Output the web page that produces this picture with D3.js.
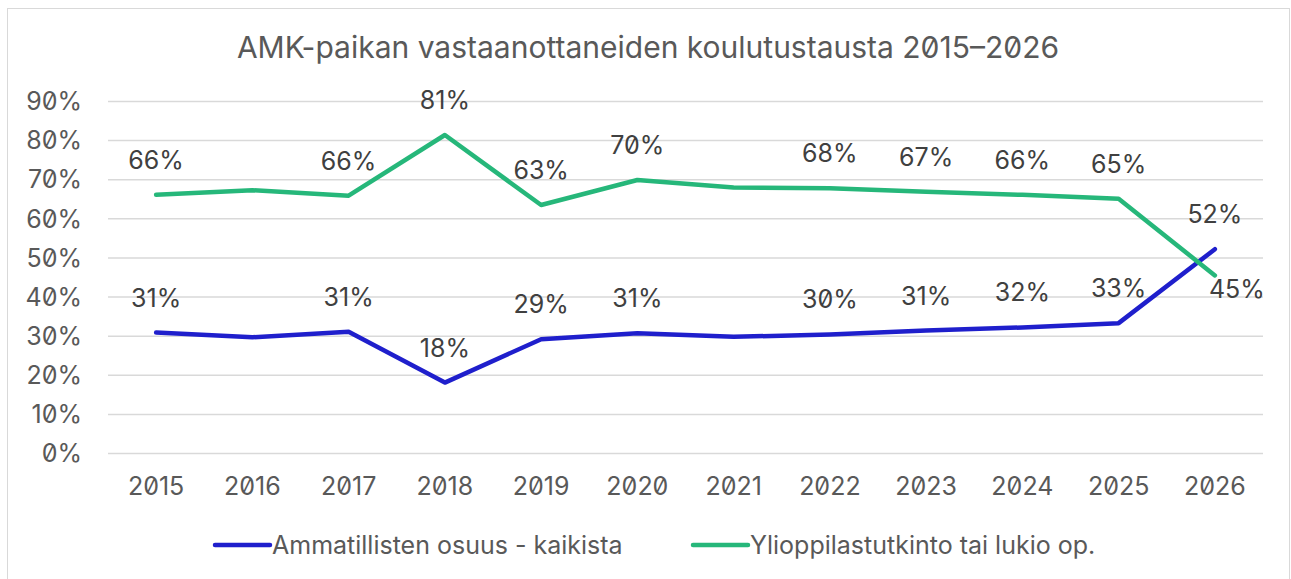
<!DOCTYPE html>
<html>
<head>
<meta charset="utf-8">
<script src="https://cdn.jsdelivr.net/npm/d3@7"></script>
<style>
  html, body { margin: 0; padding: 0; background: #fff; }
  svg text { font-family: Inter, "Noto Sans", sans-serif; font-variant-numeric: slashed-zero; font-feature-settings: "zero" 1; }
</style>
</head>
<body>
<svg id="chart" width="1291" height="579"></svg>
<script>
const title = "AMK-paikan vastaanottaneiden koulutustausta 2015–2026";
const years = ["2015","2016","2017","2018","2019","2020","2021","2022","2023","2024","2025","2026"];
const ammatilliset = [30.8, 29.6, 31.0, 18.0, 29.1, 30.6, 29.7, 30.3, 31.3, 32.1, 33.2, 52.1];
const ylioppilas   = [66.0, 67.2, 65.8, 81.3, 63.4, 69.8, 67.9, 67.7, 66.8, 66.0, 65.0, 45.4];
const yTicks = [0, 10, 20, 30, 40, 50, 60, 70, 80, 90];
const unlabeledYears = ["2016", "2021"];
const seriesNames = ["Ammatillisten osuus - kaikista", "Ylioppilastutkinto tai lukio op."];
const seriesColors = ["#1f1fcc", "#26b77a"];

const svg = d3.select("#chart");
const W = 1291, H = 579;
const margin = { left: 108, right: 28, top: 101, bottom: 126 };
const fs = 25;

// outer frame
svg.append("rect").attr("x", 7.5).attr("y", 8.5).attr("width", 1282).attr("height", 600)
  .attr("fill", "#fff").attr("stroke", "#d9d9d9").attr("stroke-width", 1);

const x = d3.scaleBand().domain(years).range([margin.left, W - margin.right]);
const y = d3.scaleLinear().domain([0, 90]).range([H - margin.bottom, margin.top]);

// title
svg.append("text").attr("x", 648).attr("y", 58).attr("text-anchor", "middle")
  .attr("font-size", 30).attr("fill", "#595959").text(title);

// gridlines + y axis
const yAxis = d3.axisLeft(y).tickValues(yTicks).tickSize(-(W - margin.left - margin.right))
  .tickFormat(d => d + "%").tickPadding(26);
const gy = svg.append("g").attr("transform", `translate(${margin.left},0)`).call(yAxis);
gy.select(".domain").remove();
gy.selectAll(".tick line").attr("stroke", "#d9d9d9").attr("stroke-width", 1.5);
gy.selectAll(".tick text").attr("font-size", fs).attr("fill", "#595959").attr("dy", "0.35em");

// x axis
const xAxis = d3.axisBottom(x).tickSize(0).tickPadding(24);
const gx = svg.append("g").attr("transform", `translate(0,${y(0)})`).call(xAxis);
gx.select(".domain").remove();
gx.selectAll(".tick text").attr("font-size", fs).attr("fill", "#595959").attr("dy", "0.71em");

const cx = d => x(d) + x.bandwidth() / 2;
const line = d3.line().x(d => cx(d.year)).y(d => y(d.v));

const series = [ammatilliset, ylioppilas].map((vals, i) => ({
  name: seriesNames[i], color: seriesColors[i],
  pts: years.map((yr, j) => ({ year: yr, v: vals[j] }))
}));

series.forEach(s => {
  svg.append("path").datum(s.pts).attr("d", line).attr("fill", "none")
    .attr("stroke", s.color).attr("stroke-width", 4.5)
    .attr("stroke-linejoin", "round").attr("stroke-linecap", "round");
});

// data labels
series.forEach((s, i) => {
  svg.append("g").selectAll("text")
    .data(s.pts.filter(p => !unlabeledYears.includes(p.year)))
    .join("text")
    .attr("x", p => (i === 1 && p.year === "2026") ? cx(p.year) + 22 : cx(p.year))
    .attr("y", p => (i === 1 && p.year === "2026") ? y(p.v) + 23 : y(p.v) - 26)
    .attr("text-anchor", "middle")
    .attr("font-size", fs).attr("fill", "#404040")
    .text(p => Math.round(p.v) + "%");
});

// legend
const legendItems = [{ x: 215 }, { x: 693 }];
series.forEach((s, i) => {
  const lx = legendItems[i].x, ly = 545;
  svg.append("line").attr("x1", lx).attr("x2", lx + 55).attr("y1", ly).attr("y2", ly)
    .attr("stroke", s.color).attr("stroke-width", 4.5).attr("stroke-linecap", "round");
  svg.append("text").attr("x", lx + 57).attr("y", ly).attr("dy", "0.35em")
    .attr("font-size", fs).attr("fill", "#595959").text(s.name);
});
</script>
</body>
</html>
